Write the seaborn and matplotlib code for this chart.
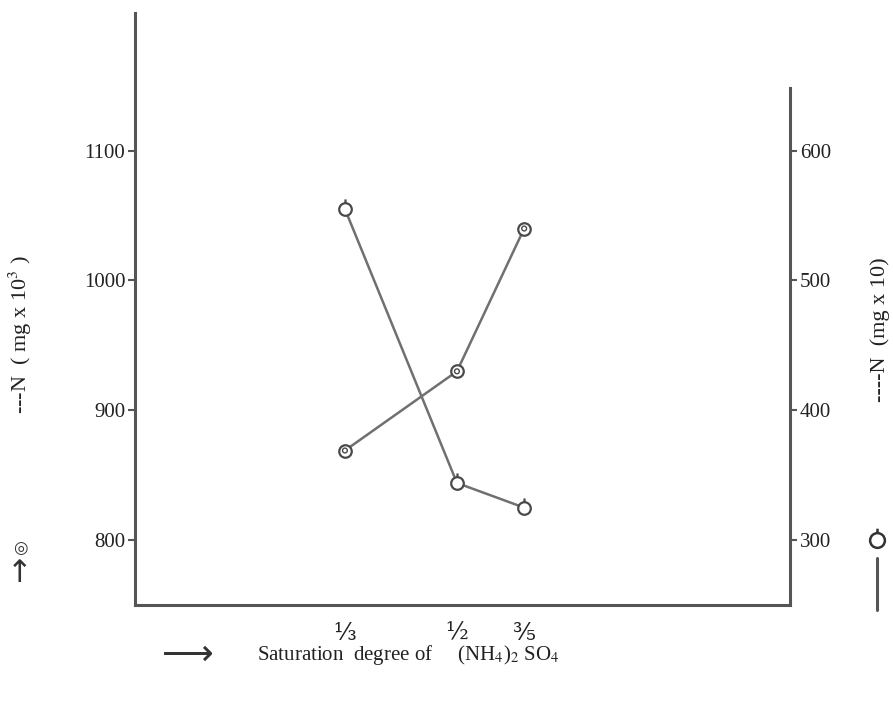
import matplotlib
matplotlib.use("Agg")
import matplotlib.pyplot as plt
from matplotlib.path import Path
import seaborn as sns
import pandas as pd

# ---- data ----
saturation = [1/3, 1/2, 3/5]
xtick_labels = ["\u2153", "\u00bd", "\u2157"]
n_left = [869, 930, 1040]      # --N (mg x 10^3), left axis, double-circle markers
n_right = [555, 344, 325]      # ----N (mg x 10), right axis, tailed-circle markers
left_ticks = [800, 900, 1000, 1100]
right_ticks = [300, 400, 500, 600]

sns.set_style("white")
plt.rcParams['font.family'] = ['Liberation Serif', 'DejaVu Serif']
plt.rcParams['mathtext.fontset'] = 'stix'

df_l = pd.DataFrame({"x": saturation, "y": n_left})
df_r = pd.DataFrame({"x": saturation, "y": n_right})

fig = plt.figure(figsize=(8.93, 7.02), dpi=100)
ax = fig.add_axes([135/893, 1-605/702, (790-135)/893, (605-13)/702])
ax2 = ax.twinx()

ink = "#4a4a4a"
line_c = "#707070"

# circle with a short tail on top (marker of the right-axis series)
circ = Path.unit_circle()
tail = Path([[0, 1.0], [0, 1.6]], [Path.MOVETO, Path.LINETO])
tailed = Path.make_compound_path(circ, tail)

sns.lineplot(data=df_l, x="x", y="y", ax=ax, color=line_c, lw=1.8,
             marker="o", markersize=9, markerfacecolor="white",
             markeredgecolor=ink, markeredgewidth=1.6)
ax.scatter(saturation, n_left, s=12, facecolors="none", edgecolors=ink, linewidths=1.0, zorder=5)

sns.lineplot(data=df_r, x="x", y="y", ax=ax2, color=line_c, lw=1.8,
             marker=tailed, markersize=14.5, markerfacecolor="white",
             markeredgecolor=ink, markeredgewidth=1.6)

ax.set_xlim(0.021, 0.9955)
ax.set_ylim(750, 1206)
ax2.set_ylim(250, 706)

for a in (ax, ax2):
    a.set_xlabel("")
    a.set_ylabel("")
    a.spines['top'].set_visible(False)
    a.patch.set_visible(False)
    for s in ('left', 'right', 'bottom'):
        a.spines[s].set_color("#555555")
        a.spines[s].set_linewidth(2.2)

ax.spines['right'].set_visible(False)
ax2.spines['left'].set_visible(False)
ax2.spines['bottom'].set_visible(False)
ax2.spines['right'].set_bounds(250, 648)

ax.set_yticks(left_ticks)
ax.set_yticklabels([str(v) for v in left_ticks], fontsize=15)
ax2.set_yticks(right_ticks)
ax2.set_yticklabels([str(v) for v in right_ticks], fontsize=15)
ax.set_xticks(saturation)
ax.set_xticklabels(xtick_labels, fontsize=17, family=['DejaVu Serif'])

ax.tick_params(axis='y', direction='out', length=5, width=1.5, color="#555555", pad=2, labelcolor="#222222")
ax2.tick_params(axis='y', direction='out', length=5, width=1.5, color="#555555", pad=2, labelcolor="#222222")
ax.tick_params(axis='x', direction='out', length=8, width=1.5, color="#555555", pad=4, labelcolor="#222222")

# axis titles as in the scanned figure
fig.text(20/893, 1-335/702, "---N  ( mg x 10$^3$ )", rotation=90, ha='center', va='center',
         fontsize=16, color="#222222")
fig.text(20/893, 1-548/702, "\u25CE", ha='center', va='center', fontsize=12, color="#333333",
         family=['DejaVu Sans'])
fig.text(20/893, 1-574/702, "\u2191", ha='center', va='center', fontsize=22, color="#333333",
         family=['DejaVu Sans'])

fig.text(880/893, 1-330/702, "----N  (mg x 10)", rotation=90, ha='center', va='center',
         fontsize=16, color="#222222")
fig.add_artist(plt.Line2D([877/893], [1-540/702], marker=tailed, markersize=17,
                          markerfacecolor="white", markeredgecolor="#333333",
                          markeredgewidth=1.8, linestyle="none"))
fig.add_artist(plt.Line2D([877/893, 877/893], [1-558/702, 1-610/702], color="#555555", lw=2.2))

fig.text(188/893, 1-655/702, "\u27F6", ha='center', va='center', fontsize=26, color="#333333",
         family=['DejaVu Sans'])
fig.text(257/893, 1-655/702, "Saturation  degree of     (NH$_4$)$_2$ SO$_4$", ha='left', va='center',
         fontsize=15, color="#222222")

fig.savefig("out.png", dpi=100)
